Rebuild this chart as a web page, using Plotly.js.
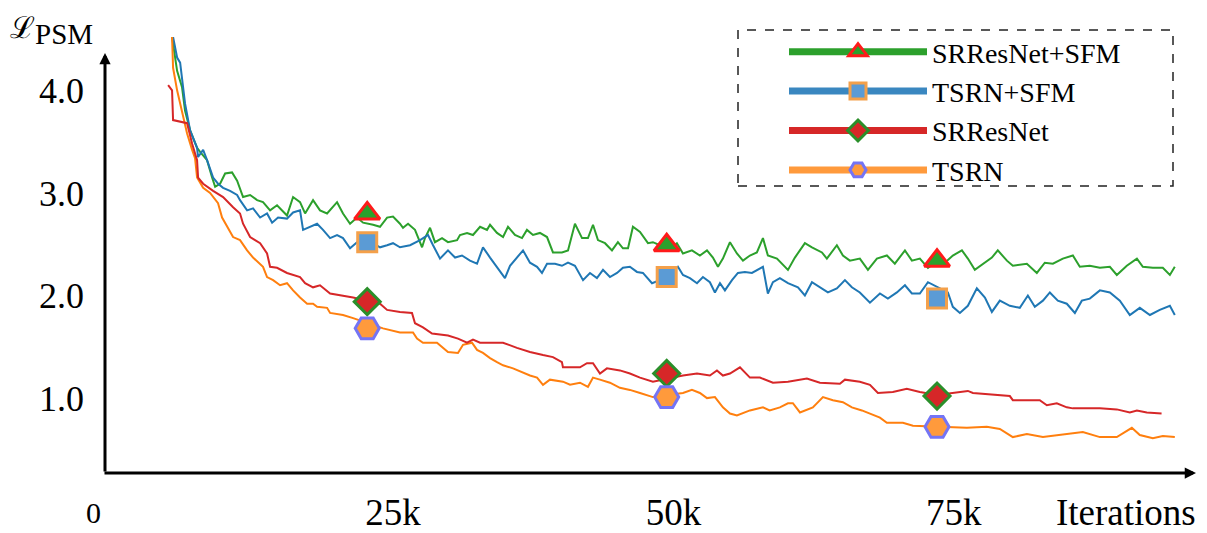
<!DOCTYPE html>
<html>
<head>
<meta charset="utf-8">
<script src="https://cdn.plot.ly/plotly-3.0.1.min.js"></script>
<style>html,body{margin:0;padding:0;background:#fff;}#chart{width:1207px;height:533px;}</style>
</head>
<body>
<div id="chart"></div>
<script>
// Iterations in thousands (k), loss L_PSM
const greenX = [5.3,5.75,6.19,6.46,6.91,7.53,7.8,8.42,8.87,9.14,9.58,10.03,10.65,11.1,11.63,12.26,12.88,13.41,14.04,14.66,15.55,16.09,16.71,17.16,17.87,18.49,19.12,20.01,20.54,21.17,21.79,22.33,23.22,23.84,24.47,25.0,25.62,25.89,26.34,26.96,27.59,27.85,28.3,28.74,29.37,29.9,30.71,30.97,31.6,32.13,32.76,33.38,33.65,34.27,34.81,35.25,35.87,36.5,36.94,37.48,38.1,38.73,39.26,40.06,40.6,41.22,41.85,42.38,42.83,43.27,43.9,44.52,45.05,45.5,45.95,46.39,47.02,47.73,48.17,48.8,49.87,50.31,50.85,51.65,52.36,52.99,53.52,53.97,54.41,55.04,55.66,56.2,56.82,57.44,57.98,58.42,59.23,60.21,60.83,61.72,62.35,63.24,63.68,64.57,65.11,65.73,66.62,67.34,68.14,69.03,69.74,70.64,71.26,71.97,72.69,73.31,74.2,74.91,75.72,76.25,76.87,77.59,78.39,78.92,79.73,80.26,81.51,82.4,83.11,83.83,84.72,85.61,86.23,87.12,88.02,88.91,89.53,90.42,91.32,91.85,92.74,93.63,94.26,94.7];
const greenY = [4.52,4.19,4.03,3.80,3.61,3.44,3.40,3.32,3.15,3.06,3.09,3.19,3.20,3.12,2.96,2.98,2.93,2.91,2.83,2.88,2.78,2.96,2.91,2.80,2.93,2.83,2.80,2.91,2.80,2.70,2.76,2.71,2.69,2.67,2.76,2.77,2.70,2.66,2.70,2.64,2.47,2.56,2.66,2.52,2.56,2.52,2.54,2.59,2.61,2.59,2.67,2.64,2.69,2.61,2.57,2.67,2.59,2.56,2.64,2.59,2.61,2.57,2.42,2.42,2.44,2.70,2.56,2.56,2.69,2.54,2.51,2.44,2.52,2.46,2.46,2.67,2.62,2.51,2.52,2.49,2.47,2.51,2.41,2.44,2.39,2.44,2.37,2.28,2.36,2.52,2.41,2.34,2.39,2.42,2.56,2.39,2.36,2.25,2.37,2.51,2.47,2.42,2.36,2.49,2.39,2.34,2.36,2.25,2.36,2.39,2.31,2.44,2.34,2.36,2.27,2.32,2.32,2.39,2.44,2.36,2.25,2.31,2.37,2.44,2.34,2.29,2.31,2.22,2.32,2.31,2.36,2.39,2.28,2.29,2.27,2.28,2.20,2.29,2.36,2.28,2.27,2.27,2.20,2.28];

const blueX = [5.39,5.75,6.02,6.19,6.46,6.91,7.17,7.53,7.62,8.07,8.42,8.96,9.4,9.85,10.47,11.1,11.36,11.99,12.52,13.15,13.77,14.22,14.75,15.55,16.09,16.71,16.98,17.6,18.23,18.76,19.39,20.01,20.54,21.17,21.79,23.22,23.84,24.47,25.0,25.62,26.52,27.41,28.12,28.57,29.19,29.9,30.53,31.15,31.86,32.49,33.02,33.65,34.27,34.98,35.43,36.05,36.59,37.21,37.84,38.28,38.73,39.44,40.06,40.6,41.22,41.94,42.56,43.18,43.72,44.34,44.97,45.5,46.12,46.75,47.28,48.09,48.8,50.4,50.85,51.47,52.1,52.63,53.25,53.7,54.15,54.59,55.22,55.75,56.37,57.0,57.44,57.98,58.42,58.87,59.49,60.21,61.1,61.72,62.35,63.06,63.77,64.57,65.29,65.91,66.62,67.52,68.41,69.12,69.92,70.64,71.26,71.97,72.69,74.47,74.91,75.54,76.25,77.05,77.77,78.39,79.1,79.99,80.88,81.6,82.22,82.94,83.56,84.27,85.07,85.79,86.41,87.12,88.02,88.91,89.8,90.69,91.58,92.48,93.36,94.26,94.7];
const blueY = [4.52,4.32,4.27,4.10,3.87,3.61,3.54,3.44,3.35,3.42,3.32,3.15,3.09,3.05,3.02,2.98,2.93,2.83,2.85,2.76,2.80,2.71,2.76,2.75,2.81,2.83,2.64,2.67,2.70,2.64,2.56,2.59,2.56,2.46,2.52,2.51,2.47,2.49,2.51,2.47,2.49,2.54,2.59,2.49,2.36,2.44,2.37,2.39,2.34,2.31,2.47,2.37,2.28,2.17,2.29,2.37,2.44,2.32,2.28,2.22,2.31,2.31,2.29,2.32,2.29,2.15,2.22,2.17,2.25,2.18,2.22,2.27,2.28,2.23,2.22,2.12,2.15,2.28,2.20,2.17,2.12,2.18,2.13,2.03,2.12,2.05,2.15,2.22,2.23,2.22,2.25,2.28,2.02,2.13,2.17,2.12,2.08,2.00,2.13,2.08,2.03,2.07,2.15,2.08,2.03,1.93,2.02,1.97,2.03,2.10,2.02,2.02,2.13,2.03,1.89,1.83,1.90,2.07,1.98,1.84,1.95,1.90,1.88,2.00,1.89,1.95,2.03,1.95,1.92,1.83,1.95,1.97,2.05,2.03,1.95,1.81,1.88,1.81,1.86,1.90,1.81];

const redX = [4.95,5.3,5.39,6.19,6.64,7.09,7.53,7.62,8.07,8.96,9.85,10.74,11.36,11.63,12.26,12.7,13.15,13.77,14.04,14.66,15.55,16.71,17.16,17.87,18.49,19.39,20.54,21.44,22.68,23.84,24.47,25.62,26.69,26.96,27.67,28.48,29.9,30.79,31.6,32.13,32.76,34.81,36.05,37.21,38.37,39.26,40.06,40.15,41.67,42.29,42.83,43.45,44.07,45.23,46.12,47.02,48.17,50.85,52.1,53.25,53.88,54.41,55.04,55.93,56.82,57.71,58.87,60.21,61.9,63.06,64.84,65.29,66.62,67.52,68.23,69.56,70.81,71.97,73.49,74.91,76.25,76.7,78.48,79.99,80.26,82.66,83.29,84.18,85.07,85.61,88.02,89.53,90.69,91.32,92.2,93.52];
const redY = [4.05,4.00,3.71,3.69,3.68,3.48,3.32,3.15,3.09,3.02,2.96,2.86,2.80,2.70,2.57,2.54,2.51,2.41,2.28,2.27,2.22,2.18,2.12,2.08,2.10,2.02,2.00,1.98,1.95,1.92,1.86,1.84,1.83,1.73,1.69,1.63,1.61,1.58,1.54,1.57,1.54,1.54,1.49,1.45,1.42,1.40,1.35,1.30,1.30,1.34,1.34,1.24,1.29,1.27,1.24,1.20,1.16,1.22,1.24,1.22,1.27,1.22,1.24,1.30,1.20,1.20,1.15,1.16,1.19,1.15,1.14,1.18,1.16,1.13,1.05,1.06,1.09,1.06,1.03,1.05,1.07,1.05,1.03,1.02,0.98,0.98,0.93,0.95,0.91,0.90,0.90,0.89,0.86,0.88,0.86,0.85];

const orangeX = [5.3,5.39,5.75,6.19,6.64,7.09,7.35,7.53,8.07,8.69,9.4,9.76,10.21,10.74,11.36,11.99,12.52,13.41,13.77,14.31,14.93,15.55,16.09,16.71,17.34,17.87,18.23,19.12,19.39,20.54,21.44,24.11,25.62,26.78,27.14,27.67,28.92,29.9,30.79,31.24,32.04,32.49,33.02,33.65,34.27,34.81,35.7,36.59,37.21,37.84,38.37,38.99,40.15,40.78,41.67,42.38,42.83,43.45,44.34,45.23,46.12,47.02,48.17,50.85,51.65,52.36,52.99,53.7,54.41,55.04,55.66,56.82,57.98,58.58,59.49,60.21,60.65,61.28,62.43,63.33,64.22,65.11,65.91,66.8,67.52,68.41,69.03,70.46,71.35,74.91,76.16,77.94,79.1,80.26,81.51,82.94,84.45,86.5,88.02,89.53,90.87,91.58,92.74,93.63,94.7];
const orangeY = [4.52,4.22,4.00,3.80,3.58,3.42,3.34,3.15,3.05,3.00,2.90,2.76,2.67,2.57,2.54,2.44,2.37,2.28,2.18,2.15,2.10,2.12,2.05,1.98,1.92,1.92,1.89,1.88,1.83,1.81,1.78,1.68,1.64,1.64,1.58,1.54,1.54,1.45,1.44,1.52,1.54,1.47,1.44,1.39,1.35,1.32,1.29,1.25,1.22,1.20,1.13,1.18,1.16,1.13,1.15,1.11,1.20,1.18,1.15,1.10,1.08,1.05,1.01,1.05,1.08,1.05,1.00,1.01,0.91,0.85,0.83,0.88,0.91,0.88,0.91,0.95,0.95,0.86,0.91,1.01,0.98,0.96,0.91,0.88,0.85,0.81,0.76,0.76,0.73,0.72,0.71,0.72,0.70,0.62,0.65,0.62,0.64,0.67,0.62,0.62,0.71,0.64,0.61,0.63,0.62];

// Marker positions (null separates the isolated markers)
const markX = [22.7, null, 49.4, null, 73.5];
const triY  = [2.80, null, 2.49, null, 2.34];
const sqY   = [2.52, null, 2.18, null, 1.97];
const diaY  = [1.94, null, 1.24, null, 1.02];
const hexY  = [1.68, null, 1.01, null, 0.72];

const seriesNames = ['SRResNet+SFM', 'TSRN+SFM', 'SRResNet', 'TSRN'];
const xTickVals = [25, 50, 75];
const xTickText = ['25k', '50k', '75k'];
const yTickVals = [1, 2, 3, 4];
const yTickText = ['1.0', '2.0', '3.0', '4.0'];

const C = {green:'#2ca02c', blue:'#1f77b4', red:'#d62728', orange:'#ff7f0e'};
const SERIF = 'Liberation Serif, Times New Roman, serif';

function lineTrace(x, y, color) {
  return {x: x, y: y, type: 'scatter', mode: 'lines', showlegend: false, hoverinfo: 'skip',
          line: {color: color, width: 2}};
}
function markTrace(y, name, lineColor, sym, size, fill, edge) {
  return {x: markX, y: y, name: name, type: 'scatter', mode: 'lines+markers', connectgaps: false,
          line: {color: lineColor, width: 7},
          marker: {symbol: sym, size: size, color: fill, line: {color: edge, width: 3}}};
}

const data = [
  lineTrace(greenX, greenY, C.green),
  lineTrace(blueX, blueY, C.blue),
  lineTrace(orangeX, orangeY, C.orange),
  lineTrace(redX, redY, C.red),
  markTrace(triY, seriesNames[0], C.green, 'triangle-up', 22, '#2ca02c', '#ff1a1a'),
  markTrace(sqY, seriesNames[1], '#3a87c0', 'square', 19, '#5b9bd5', '#f4a04a'),
  markTrace(diaY, seriesNames[2], C.red, 'diamond', 20, '#d62728', '#2a8f2a'),
  markTrace(hexY, seriesNames[3], '#ff9a3c', 'hexagon2', 24, '#ff9a3c', '#7474f5')
];

const PL = 107, PT = 37, PW = 1088, PH = 436;
function px(v) { return (v - PL) / PW; }
function py(v) { return (PT + PH - v) / PH; }

const layout = {
  width: 1207, height: 533,
  margin: {l: PL, r: 1207 - PL - PW, t: PT, b: 533 - PT - PH},
  paper_bgcolor: '#fff', plot_bgcolor: '#fff',
  showlegend: true,
  xaxis: {range: [-0.5, 96.5], showgrid: false, zeroline: false, showline: false, ticks: '',
          tickmode: 'array', tickvals: xTickVals, ticktext: xTickText, ticklabelstandoff: 14,
          tickfont: {family: SERIF, size: 37, color: '#000'}, fixedrange: true},
  yaxis: {range: [0.27, 4.52], showgrid: false, zeroline: false, showline: false, ticks: '',
          tickmode: 'array', tickvals: yTickVals, ticktext: yTickText, ticklabelstandoff: 22,
          tickfont: {family: SERIF, size: 36, color: '#000'}, fixedrange: true},
  legend: {x: px(784), y: py(27), xanchor: 'left', yanchor: 'top', bgcolor: 'rgba(0,0,0,0)',
           borderwidth: 0, itemwidth: 138, tracegroupgap: 0,
           font: {family: SERIF, size: 28, color: '#000'}},
  shapes: [
    {type: 'rect', xref: 'paper', yref: 'paper', x0: px(738), x1: px(1173), y0: py(186), y1: py(30),
     line: {color: '#222', width: 1.5, dash: 'dash'}, fillcolor: 'rgba(0,0,0,0)'}
  ],
  annotations: [
    {xref: 'paper', yref: 'paper', x: px(105), y: py(53), ax: 0, ay: 420, text: '', showarrow: true,
     arrowhead: 2, arrowsize: 0.75, arrowwidth: 3, arrowcolor: '#000', standoff: 0},
    {xref: 'paper', yref: 'paper', x: px(1196), y: py(473), ax: -1093, ay: 0, text: '', showarrow: true,
     arrowhead: 2, arrowsize: 0.75, arrowwidth: 3, arrowcolor: '#000', standoff: 0},
    {xref: 'paper', yref: 'paper', x: px(93), y: py(512), text: '0', showarrow: false,
     xanchor: 'center', yanchor: 'middle', font: {family: SERIF, size: 30, color: '#000'}},
    {xref: 'paper', yref: 'paper', x: px(1198), y: py(512), text: 'Iterations', showarrow: false,
     xanchor: 'right', yanchor: 'middle', font: {family: SERIF, size: 37, color: '#000'}},
    {xref: 'paper', yref: 'paper', x: px(8), y: py(28), text: 'ℒ', showarrow: false,
     xanchor: 'left', yanchor: 'middle', font: {family: 'DejaVu Serif, ' + SERIF, size: 30, color: '#000'}},
    {xref: 'paper', yref: 'paper', x: px(33), y: py(34), text: 'PSM', showarrow: false,
     xanchor: 'left', yanchor: 'middle', font: {family: SERIF, size: 29, color: '#000'}}
  ]
};

Plotly.newPlot('chart', data, layout, {staticPlot: true, displayModeBar: false});
</script>
</body>
</html>
